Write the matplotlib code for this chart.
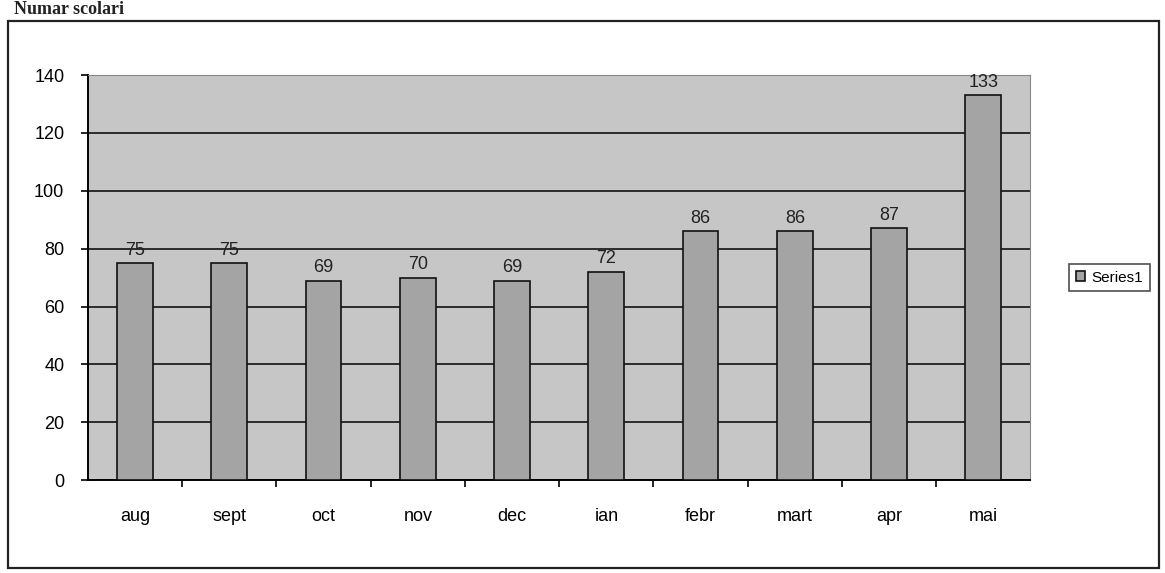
import matplotlib.pyplot as plt
from matplotlib.patches import Rectangle

# data
months = ['aug', 'sept', 'oct', 'nov', 'dec', 'ian', 'febr', 'mart', 'apr', 'mai']
values = [75, 75, 69, 70, 69, 72, 86, 86, 87, 133]
series_name = 'Series1'

plt.rcParams['font.family'] = ['Liberation Sans', 'DejaVu Sans']

fig = plt.figure(figsize=(11.65, 5.73), dpi=100)
fig.patch.set_facecolor('white')

# outer chart frame
fig.patches.append(Rectangle((0.007, 0.008), 0.988, 0.955, transform=fig.transFigure,
                             fill=False, edgecolor='#222222', linewidth=1.6))

# title at the top of the scan
fig.text(0.012, 0.999, 'Numar scolari', family=['Liberation Serif', 'DejaVu Serif'],
         fontsize=13, fontweight='bold', va='top', ha='left', color='#222222')

ax = fig.add_axes([0.0755, 0.162, 0.809, 0.707])
ax.set_facecolor('#c6c6c6')

x = range(len(months))
bars = ax.bar(x, values, width=0.38, color='#a4a4a4', edgecolor='#111111',
              linewidth=1.2, label=series_name, zorder=3)

for xi, v in zip(x, values):
    ax.text(xi, v + 1.5, str(v), ha='center', va='bottom', fontsize=13, color='#222222', zorder=4)

ax.set_ylim(0, 140)
ax.set_xlim(-0.5, len(months) - 0.5)
ax.set_yticks(range(0, 141, 20))
ax.yaxis.grid(True, color='#111111', linewidth=1.2, zorder=1)
ax.set_axisbelow(True)

# category labels centred, ticks on the boundaries
ax.set_xticks(list(x))
ax.set_xticklabels(months)
ax.set_xticks([i - 0.5 for i in range(1, len(months))], minor=True)
ax.tick_params(axis='x', which='major', length=0, pad=20, labelsize=13)
ax.tick_params(axis='x', which='minor', length=5, width=1.2, direction='out')
ax.tick_params(axis='y', length=5, width=1.2, labelsize=13, pad=12)

for side in ['left', 'bottom']:
    ax.spines[side].set_linewidth(1.4)
ax.spines['top'].set_color('#888888')
ax.spines['right'].set_color('#888888')

leg = ax.legend(loc='center left', bbox_to_anchor=(1.036, 0.5), frameon=True,
                fancybox=False, edgecolor='#222222', fontsize=11,
                handlelength=0.6, handleheight=0.6, handletextpad=0.4,
                borderpad=0.45, borderaxespad=0.3)
leg.get_frame().set_linewidth(1.2)

plt.savefig('out.png', dpi=100)
